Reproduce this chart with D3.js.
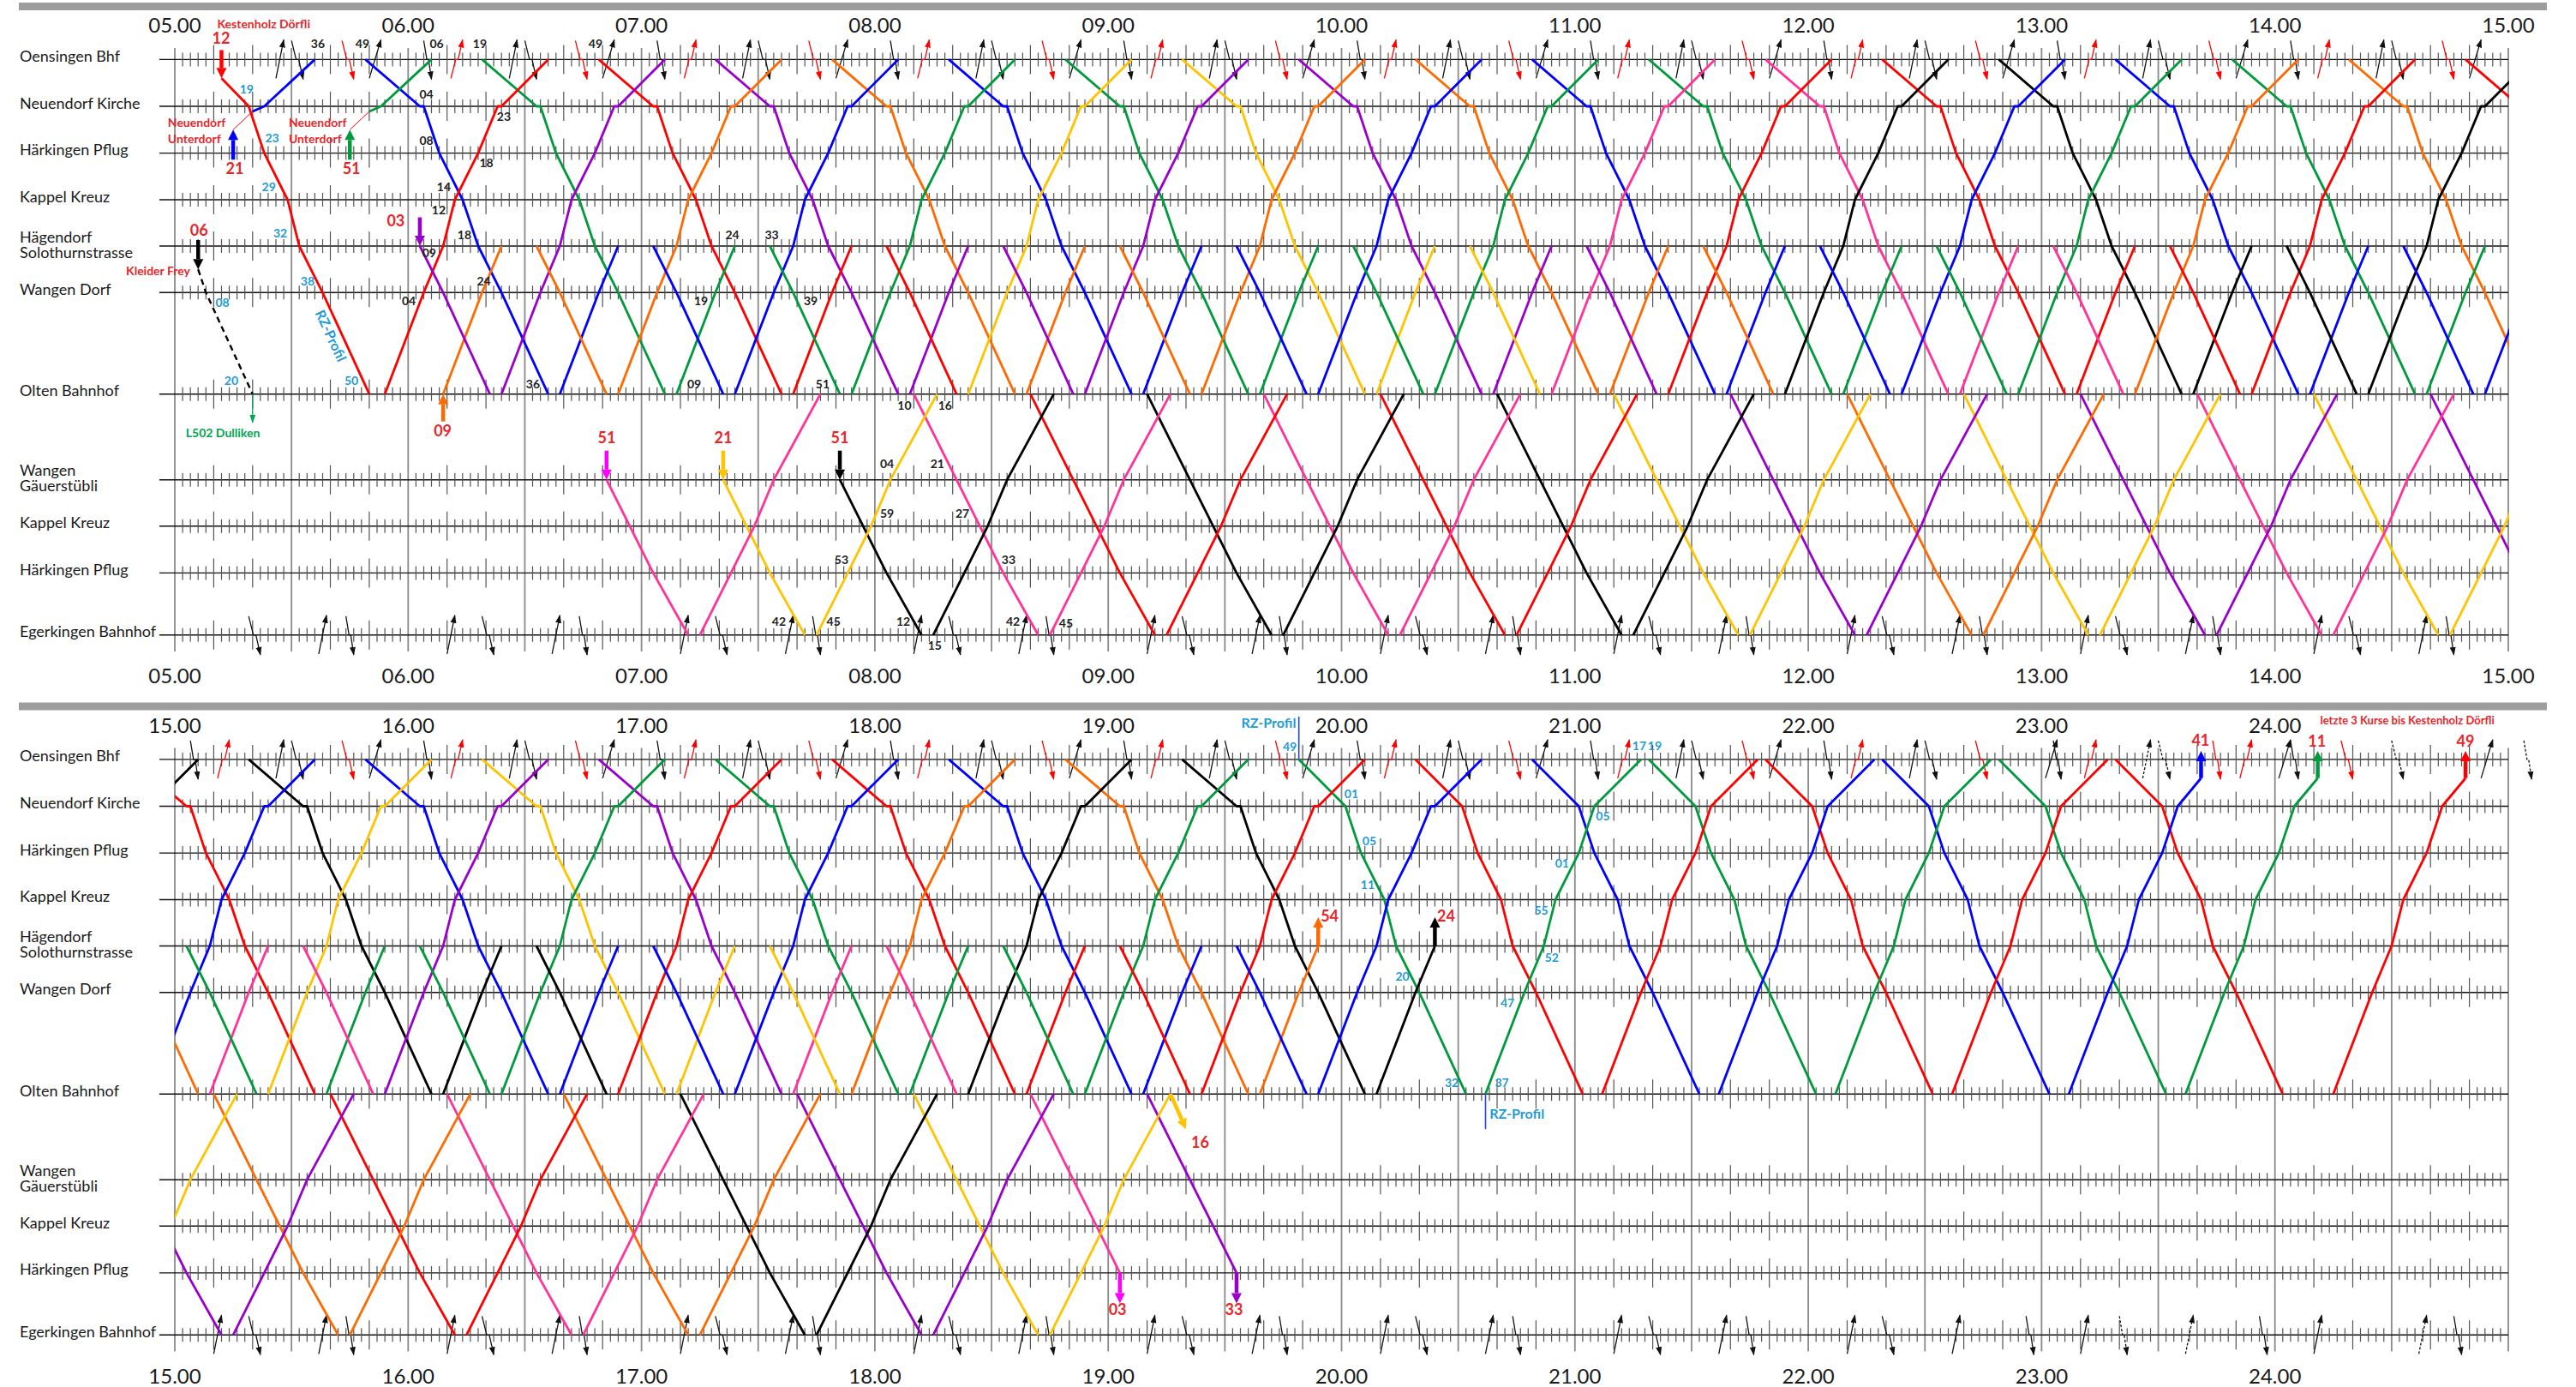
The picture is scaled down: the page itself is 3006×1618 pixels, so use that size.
<!DOCTYPE html>
<html><head><meta charset="utf-8"><title>Umlaufplan Oensingen – Olten – Egerkingen</title>
<script src="https://cdn.jsdelivr.net/npm/d3@7"></script>
<style>html,body{margin:0;padding:0;background:#fff}svg text{font-family:Lato,"Noto Sans",sans-serif}</style>
</head><body>
<svg id="chart" width="3006" height="1618" xmlns="http://www.w3.org/2000/svg"></svg>
<script>
// ---------------- DATA ----------------
const stations = ["Oensingen Bhf","Neuendorf Kirche","Härkingen Pflug","Kappel Kreuz","Hägendorf\nSolothurnstrasse","Wangen Dorf","Olten Bahnhof","Wangen\nGäuerstübli","Kappel Kreuz","Härkingen Pflug","Egerkingen Bahnhof"];
const topHourLabels = ["05.00","06.00","07.00","08.00","09.00","10.00","11.00","12.00","13.00","14.00","15.00"];
const bottomHourLabels = ["15.00","16.00","17.00","18.00","19.00","20.00","21.00","22.00","23.00","24.00"];

// running-time profiles: [minutes after departure, stop index]
const profD   = [[0,0],[14,1],[15,1],[19,2],[25,3],[29,4],[35,5],[47,6]];
const profU   = [[0,6],[10,5],[15,4],[18,3],[24,2],[29,1],[30,1],[42,0]];
const profSU  = [[0,6],[10,5],[15,4]];
const profSD  = [[0,4],[6,5],[18,6]];
const profLD  = [[0,6],[11,7],[17,8],[23,9],[32,10]];
const profLU  = [[0,10],[8,9],[14,8],[19,7],[31,6]];
const profLDg = [[11,7],[17,8],[23,9],[32,10]];
const profLDh = [[0,6],[11,7],[17,8],[23,9]];
const profRzD = [[0,0],[12,1],[16,2],[22,3],[25,4],[31,5],[43,6]];
const profRzU = [[0,6],[10,5],[15,4],[18,3],[24,2],[28,1],[40,0]];
const profRzK = [[0,6],[10,5],[15,4],[18,3],[24,2],[28,1],[34,0.4]];
const profKD  = [[0,0.4],[7,1],[11,2],[17,3],[20,4],[26,5],[38,6]];
const profUU  = [[0,1.11],[3,1],[16,0]];
const profKF  = [[0,4.5],[2,5],[14,6]];

// trips: [departure, vehicle colour]
const tripsD = [["05:49","B"],["06:19","G"],["06:49","R"],["07:19","P"],["07:49","O"],["08:19","B"],["08:49","G"],["09:19","Y"],["09:49","P"],["10:19","O"],["10:49","B"],["11:19","G"],["11:49","M"],["12:19","R"],["12:49","K"],["13:19","B"],["13:49","G"],["14:19","O"],["14:49","R"],["15:19","K"],["15:49","B"],["16:19","Y"],["16:49","P"],["17:19","G"],["17:49","R"],["18:19","B"],["18:49","O"],["19:19","K"]];
const tripsRzD = [["19:49","G"],["20:19","R"],["20:49","B"],["21:19","G"],["21:49","R"],["22:19","B"],["22:49","G"],["23:19","R"]];
const tripsU = [["05:54","R"],["06:24","P"],["06:54","O"],["07:24","B"],["07:54","G"],["08:24","Y"],["08:54","P"],["09:24","O"],["09:54","B"],["10:24","G"],["10:54","M"],["11:24","R"],["11:54","K"],["12:24","B"],["12:54","G"],["13:24","O"],["13:54","R"],["14:24","K"],["14:54","B"],["15:24","Y"],["15:54","P"],["16:24","G"],["16:54","R"],["17:24","B"],["17:54","O"],["18:24","K"],["18:54","G"],["19:24","R"],["19:54","B"]];
const tripsRzU = [["20:37","G"],["21:07","R"],["21:37","B"],["22:07","G"],["22:37","R"]];
const tripsRzK = [["23:07","B"],["23:37","G"],["24:15","R"]];
const tripsSU = [["06:09","O"],["06:39","B"],["07:09","G"],["07:39","R"],["08:09","P"],["08:39","O"],["09:09","B"],["09:39","G"],["10:09","Y"],["10:39","P"],["11:09","O"],["11:39","B"],["12:09","G"],["12:39","M"],["13:09","R"],["13:39","K"],["14:09","B"],["14:39","G"],["15:09","M"],["15:39","G"],["16:09","K"],["16:39","B"],["17:09","Y"],["17:39","M"],["18:09","G"],["18:39","R"],["19:09","B"],["19:39","O"],["20:09","K"]];
const tripsSD = [["06:03","P"],["06:33","O"],["07:03","B"],["07:33","G"],["08:03","R"],["08:33","P"],["09:03","O"],["09:33","B"],["10:03","G"],["10:33","Y"],["11:03","P"],["11:33","O"],["12:03","B"],["12:33","G"],["13:03","M"],["13:33","R"],["14:03","K"],["14:33","B"],["15:03","G"],["15:33","M"],["16:03","G"],["16:33","K"],["17:03","B"],["17:33","Y"],["18:03","M"],["18:33","G"],["19:03","R"],["19:33","B"]];
const tripsLD = [["08:10","M"],["08:40","R"],["09:10","K"],["09:40","M"],["10:10","R"],["10:40","K"],["11:10","Y"],["11:40","P"],["12:10","O"],["12:40","Y"],["13:10","P"],["13:40","M"],["14:10","Y"],["14:40","P"],["15:10","O"],["15:40","R"],["16:10","M"],["16:40","O"],["17:10","K"],["17:40","P"],["18:10","Y"]];
const tripsLDg = [["06:40","M"],["07:10","Y"],["07:40","K"]];
const tripsLDh = [["18:40","M"],["19:10","P"]];
const tripsLU = [["07:15","M"],["07:45","Y"],["08:15","K"],["08:45","M"],["09:15","R"],["09:45","K"],["10:15","M"],["10:45","R"],["11:15","K"],["11:45","Y"],["12:15","P"],["12:45","O"],["13:15","Y"],["13:45","P"],["14:15","M"],["14:45","Y"],["15:15","P"],["15:45","O"],["16:15","R"],["16:45","M"],["17:15","O"],["17:45","K"],["18:15","P"],["18:45","Y"]];
const tripsKD = [["05:12","R"]];
const tripsUU = [["05:20","B"],["05:50","G"]];
const tripsKF = [["05:06","K"]];
const connectors = [[["05:15",1.5],["05:20",1.11]],[["05:45",1.5],["05:50",1.11]]];

// start / end arrows: [time, from stop, to stop, colour] (to = tip)
const bigArrows = [["05:12",-0.2,0.4,"R"],["05:15",2.14,1.5,"B"],["05:45",2.14,1.5,"G"],["05:06",3.87,4.5,"K"],["06:03",3.38,4,"P"],["06:09",6.32,6,"O"],["06:51",6.66,7,"F"],["07:21",6.66,7,"Y"],["07:51",6.66,7,"K"],
  ["19:54",4,3.38,"O"],["20:24",4,3.38,"K"],["19:03",9,9.49,"F"],["19:33",9,9.49,"P"],["23:41",0.4,-0.18,"B"],["24:11",0.4,-0.18,"G"],["24:49",0.4,-0.18,"R"]];
const diagArrows = [[["19:16",6],["19:20",6.41],"Y"]];

// train connections at Oensingen / Egerkingen (clock-face minutes)
const connHours = [5,6,7,8,9,10,11,12,13,14,15,16,17,18,19,20,21,22];
const oensPattern = [[4,6,"d","k"],[11,14,"u","r"],[26,28,"u","k"],[30,33,"d","k"],[43,46,"d","r"],[50,53,"u","k"]];
const oensRange = ["05:26","22:46"];
const oensLate = [["23:01","23:04","u","k"],["23:03","23:05","d","k"],["23:11","23:14","u","r"],["23:26","23:28","u","k",1],["23:30","23:33","d","k",1],["23:44","23:46","d","r"],["23:51","23:54","u","r"],["24:01","24:04","u","k"],["24:04","24:06","d","k"],["24:17","24:20","d","r"],["24:30","24:33","d","k",1],["24:53","24:56","u","k"],["25:04","25:06","d","k",1]];
const egerPattern = [[10,12,"u","k"],[19,22,"d","k"],[37,39,"u","k"],[44,46,"d","k"]];
const egerRange = ["05:19","22:39"];
const egerLate = [["22:56","22:58","d","k"],["23:10","23:12","u","k"],["23:20","23:22","d","k",1],["23:37","23:39","u","k",1],["23:56","23:58","d","k"],["24:10","24:12","u","k"],["24:37","24:39","u","k",1],["24:46","24:48","d","k"]];

// annotations: [text, hours, stop, dy]
const labelsBlack = [["36",5.613,0,-17],["49",5.804,0,-17],["06",6.122,0,-17],["19",6.307,0,-17],["49",6.803,0,-17],
 ["04",6.078,1,-13],["23",6.41,1,13],["08",6.078,2,-13],["18",6.335,2,13],["14",6.153,3,-14],["12",6.131,3,13],["18",6.241,4,-12],["09",6.09,4,9],["24",6.324,5,-12],["04",6.003,5,11],["36",6.535,6,-10],
 ["24",7.389,4,-12],["33",7.558,4,-12],["19",7.255,5,11],["39",7.725,5,11],["09",7.226,6,-10],["51",7.776,6,-10],
 ["53",7.857,9,-14],["42",7.589,10,-14],["45",7.823,10,-14],["10",8.127,6,15],["16",8.301,6,15],["04",8.052,7,-17],["21",8.268,7,-17],["59",8.052,8,-13],["27",8.375,8,-13],["33",8.573,9,-14],["12",8.122,10,-14],["15",8.257,10,14],["42",8.592,10,-14],["45",8.819,10,-12]];
const labelsCyan = [["19",5.308,1,-19],["23",5.417,2,-16],["29",5.403,3,-14],["32",5.452,4,-14],["38",5.569,5,-12],["08",5.204,5,13],["20",5.242,6,-14],["50",5.757,6,-14],
 ["49",19.778,0,-13],["01",20.042,1,-13],["05",20.119,2,-13],["11",20.112,3,-16],["20",20.261,5,-17],["32",20.472,6,-12],["37",20.687,6,-12],["05",21.12,1,13],["01",20.945,2,13],["55",20.856,3,14],["52",20.901,4,15],["47",20.711,5,14],["17",21.276,0,-14],["19",21.342,0,-14]];
const labelsRed = [["12",5.198,0,-23],["21",5.257,2,20],["51",5.757,2,20],["06",5.104,4,-17],["03",5.947,4,-28],["09",6.148,6,45],["51",6.851,7,-47],["21",7.35,7,-47],["51",7.85,7,-47],
 ["54",19.949,4,-33],["24",20.448,4,-33],["16",19.394,6,58],["03",19.04,9,44],["33",19.539,9,44],["41",23.681,0,-21],["11",24.18,0,-20],["49",24.816,0,-20]];
const notesRed = [["Kestenholz Dörfli",5.381,0,-40,"middle"],["Neuendorf",4.97,1,20,"start"],["Unterdorf",4.97,1,39,"start"],["Neuendorf",5.488,1,20,"start"],["Unterdorf",5.488,1,39,"start"],["Kleider Frey",5.066,4,30,"end"],["letzte 3 Kurse bis Kestenholz Dörfli",24.194,0,-44,"start"]];
const notesGreen = [["L502 Dulliken",5.047,6,47,"start"]];
const rzNotes = [["RZ-Profil",5.663,5,51,"middle",65],["RZ-Profil",19.805,0,-41,"end",0],["RZ-Profil",20.634,6,25,"start",0]];
const rzMarks = [[19.817,0,-50,0],[20.617,6,0,41]];

// ---------------- DRAWING ----------------
const colors = {R:"#FF0000",B:"#0000FF",G:"#009A3D",O:"#FF6A00",P:"#9A00CC",Y:"#FFC400",K:"#000000",M:"#FF3399",F:"#FF00FF"};
const redTxt = "#E8262A", cyanTxt = "#1E9BD7", greenTxt = "#00A650";
const rowsY = [69.4,124,178.6,233,287,341.3,459.7,559.7,613.8,668.4,740.8];
const X0 = 204, X1 = 2927;
const hrs = s => { const [h,m] = s.split(":").map(Number); return h + m/60; };
const svg = d3.select("#chart");
const defs = svg.append("defs");
[["k","#111"],["r","#FF0000"],["g",greenTxt]].forEach(([id,c])=>{
  defs.append("marker").attr("id","ah"+id).attr("markerUnits","userSpaceOnUse").attr("markerWidth",10).attr("markerHeight",10)
   .attr("viewBox","0 0 10 10").attr("refX",9).attr("refY",5).attr("orient","auto")
   .append("path").attr("d","M0,1.5 L10,5 L0,8.5 Z").attr("fill",c);
});

const panels = [{start:5, off:0, labels:topHourLabels},{start:15, off:816.5, labels:bottomHourLabels}];
const tripSets = [[tripsD,profD],[tripsRzD,profRzD],[tripsU,profU],[tripsRzU,profRzU],[tripsRzK,profRzK],[tripsSU,profSU],[tripsSD,profSD],[tripsLD,profLD],[tripsLDg,profLDg],[tripsLDh,profLDh],[tripsLU,profLU],[tripsKD,profKD],[tripsUU,profUU]];

function connList(pattern, range, late){
  const lo = hrs(range[0]) - 1e-6, hi = hrs(range[1]) + 1e-6, out = [];
  connHours.forEach(h => pattern.forEach(p => { const t1 = h + p[0]/60; if (t1 >= lo && t1 <= hi) out.push([t1, h + p[1]/60, p[2], p[3], 0]); }));
  late.forEach(l => out.push([hrs(l[0]), hrs(l[1]), l[2], l[3], l[4]||0]));
  return out;
}
const oensConn = connList(oensPattern, oensRange, oensLate);
const egerConn = connList(egerPattern, egerRange, egerLate);
const inPanel = (t, p) => p.start === 5 ? t < 15 : t >= 15;

function thickArrow(g, x1, y1, x2, y2, c){
  const dx = x2-x1, dy = y2-y1, L = Math.hypot(dx,dy), ux = dx/L, uy = dy/L, hl = 12, hw = 6;
  const bx = x2 - ux*hl, by = y2 - uy*hl;
  g.append("line").attr("x1",x1).attr("y1",y1).attr("x2",bx).attr("y2",by).attr("stroke",c).attr("stroke-width",4.5);
  g.append("path").attr("d",`M${x2},${y2} L${bx - uy*hw},${by + ux*hw} L${bx + uy*hw},${by - ux*hw} Z`).attr("fill",c);
}

panels.forEach((p, pi) => {
  const g = svg.append("g");
  const x = d3.scaleLinear().domain([p.start, p.start + 10]).range([X0, X1]);
  const y = d3.scaleLinear().domain(d3.range(11)).range(rowsY.map(v => v + p.off));

  g.append("rect").attr("x",22).attr("y",3 + p.off).attr("width",2950).attr("height",9).attr("fill","#9d9d9d");

  for (let k = 0; k <= 20; k++) {
    g.append("line").attr("x1",x(p.start + k/2)).attr("x2",x(p.start + k/2)).attr("y1",56 + p.off).attr("y2",760 + p.off)
      .attr("stroke","#8a8a8a").attr("stroke-width",1.8);
  }
  stations.forEach((s, i) => {
    const yy = y(i);
    g.append("line").attr("x1",186).attr("x2",X1).attr("y1",yy).attr("y2",yy).attr("stroke","#111").attr("stroke-width",1.4);
    let d = "";
    for (let m = 2; m < 600; m += 2) {
      if (m % 30 === 0) continue;
      const xx = x(p.start + m/60), h = (m % 10 === 0) ? 17 : 8;
      d += `M${xx.toFixed(1)},${(yy-h).toFixed(1)}V${(yy+h).toFixed(1)}`;
    }
    g.append("path").attr("d",d).attr("stroke","#555").attr("stroke-width",1.2).attr("fill","none");
    const parts = s.split("\n");
    const tx = g.append("text").attr("x",23).attr("font-size",18).attr("fill","#1a1a1a");
    if (parts.length === 1) tx.attr("y",yy - 2).attr("dominant-baseline","middle").text(s);
    else parts.forEach((pt, j) => tx.append("tspan").attr("x",23).attr("y",yy - 9 + j*18).attr("dominant-baseline","middle").text(pt));
  });

  p.labels.forEach((l, i) => {
    g.append("text").attr("x",x(p.start + i)).attr("y",32 + p.off).attr("text-anchor","middle").attr("dominant-baseline","middle").attr("font-size",24).attr("fill","#1a1a1a").text(l);
    g.append("text").attr("x",x(p.start + i)).attr("y",791 + p.off).attr("text-anchor","middle").attr("dominant-baseline","middle").attr("font-size",24).attr("fill","#1a1a1a").text(l);
  });

  [[oensConn,0],[egerConn,10]].forEach(([list, st]) => {
    list.filter(a => inPanel(a[0], p)).forEach(([t1, t2, dir, c, dash]) => {
      const yy = y(st), x1 = x(t1), x2 = x(t2);
      const ya = dir === "d" ? yy - 22 : yy + 22, yb = dir === "d" ? yy + 23 : yy - 23;
      let dpath;
      if (dir === "d" || c === "r") { const xm1 = x1 + (x2-x1)*0.4, xm2 = x1 + (x2-x1)*0.62; dpath = `M${x1},${ya}L${xm1},${yy}L${xm2},${yy}L${x2},${yb}`; }
      else dpath = `M${x1},${ya}L${x2},${yb}`;
      g.append("path").attr("d",dpath).attr("fill","none").attr("stroke",c === "r" ? "#FF0000" : "#111").attr("stroke-width",1.3)
        .attr("stroke-dasharray",dash ? "3,2" : null).attr("marker-end",`url(#ah${c})`);
    });
  });

  const clipId = "clip" + pi;
  defs.append("clipPath").attr("id",clipId).append("rect").attr("x",X0).attr("y",p.off).attr("width",X1 - X0 + 1).attr("height",800);
  const tg = g.append("g").attr("clip-path",`url(#${clipId})`);
  const line = d3.line().x(d => x(d[0])).y(d => y(d[1]));
  tripSets.forEach(([trips, prof]) => trips.forEach(([t, c]) => {
    const t0 = hrs(t);
    const pts = prof.map(([m, s]) => [t0 + m/60, s]);
    tg.append("path").attr("d",line(pts)).attr("fill","none").attr("stroke",colors[c]).attr("stroke-width",2.8).attr("stroke-linejoin","round");
  }));
  tripsKF.forEach(([t, c]) => {
    const t0 = hrs(t);
    tg.append("path").attr("d",line(profKF.map(([m,s]) => [t0 + m/60, s]))).attr("fill","none").attr("stroke",colors[c]).attr("stroke-width",2.4).attr("stroke-dasharray","7,5");
  });
  connectors.forEach(cn => tg.append("path").attr("d",line(cn.map(([t,s]) => [hrs(t), s]))).attr("fill","none").attr("stroke","#FF0000").attr("stroke-width",1));

  if (pi === 0) {
    g.append("line").attr("x1",x(hrs("05:20"))).attr("x2",x(hrs("05:20"))).attr("y1",y(6)).attr("y2",y(6)+33).attr("stroke",greenTxt).attr("stroke-width",1.3).attr("marker-end","url(#ahg)");
  }

  bigArrows.filter(a => inPanel(hrs(a[0]) , p)).forEach(([t, s1, s2, c]) => thickArrow(g, x(hrs(t)), y(s1), x(hrs(t)), y(s2), colors[c]));
  diagArrows.filter(a => inPanel(hrs(a[0][0]), p)).forEach(([a, b, c]) => thickArrow(g, x(hrs(a[0])), y(a[1]), x(hrs(b[0])), y(b[1]), colors[c]));

  rzMarks.filter(r => inPanel(r[0], p)).forEach(([t, s, d1, d2]) => g.append("line").attr("x1",x(t)).attr("x2",x(t)).attr("y1",y(s)+d1).attr("y2",y(s)+d2).attr("stroke","#2244EE").attr("stroke-width",1.6));

  const txt = (arr, fill, size, anchor) => arr.filter(l => inPanel(l[1], p)).forEach(l => {
    g.append("text").attr("x",x(l[1])).attr("y",y(l[2]) + l[3]).attr("text-anchor",l[4] || anchor).attr("dominant-baseline","middle")
      .attr("font-size",size).attr("font-weight",700).attr("fill",fill).text(l[0]);
  });
  txt(labelsBlack, "#222", 14, "middle");
  txt(labelsCyan, cyanTxt, 14, "middle");
  txt(labelsRed, redTxt, 18, "middle");
  txt(notesRed.filter(n => n[0].length < 20), redTxt, 14, "middle");
  txt(notesRed.filter(n => n[0].length >= 20), redTxt, 13, "middle");
  txt(notesGreen, greenTxt, 14, "start");
  rzNotes.filter(r => inPanel(r[1], p)).forEach(([s, t, st, dy, anc, rot]) => {
    const xx = x(t), yy = y(st) + dy;
    g.append("text").attr("transform",`translate(${xx},${yy}) rotate(${rot})`).attr("text-anchor",anc).attr("dominant-baseline","middle")
      .attr("font-size",16).attr("font-weight",700).attr("fill",cyanTxt).text(s);
  });
});
</script></body></html>
